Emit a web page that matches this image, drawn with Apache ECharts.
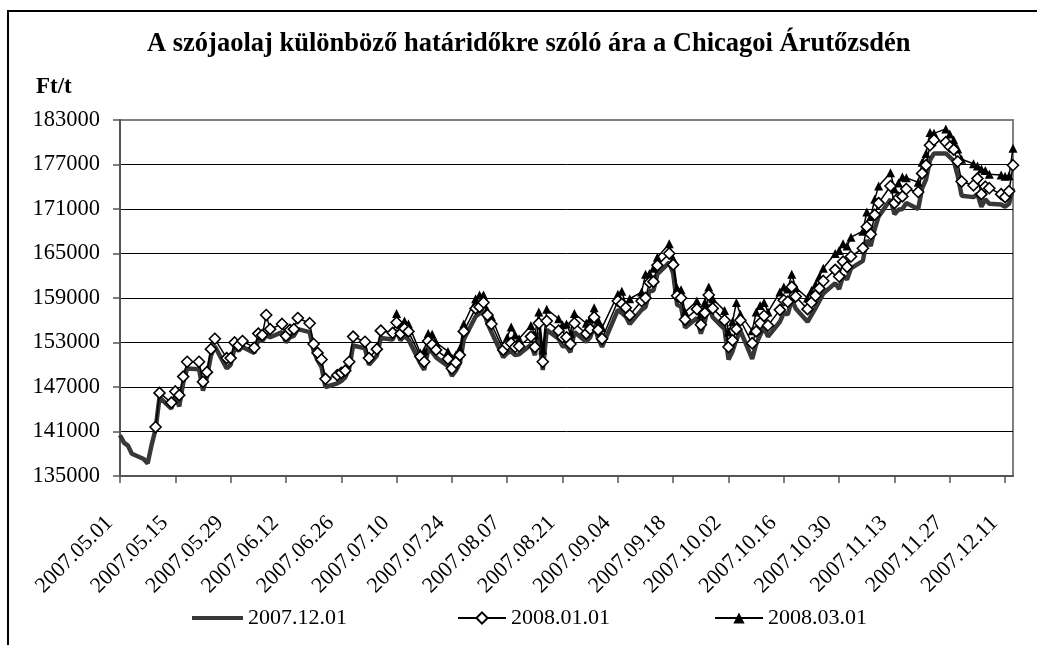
<!DOCTYPE html>
<html>
<head>
<meta charset="utf-8">
<script src="https://cdn.jsdelivr.net/npm/echarts@6/dist/echarts.min.js"></script>
<style>html,body{margin:0;padding:0;background:#fff}#c{width:1037px;height:645px}</style>
</head>
<body>
<div id="c"></div>
<script>
const titleText = 'A szójaolaj különböző határidőkre szóló ára a Chicagoi Árutőzsdén';
const unitText = 'Ft/t';
const seriesNames = ['2007.12.01', '2008.01.01', '2008.03.01'];
const xTickLabels = ['2007.05.01','2007.05.15','2007.05.29','2007.06.12','2007.06.26','2007.07.10','2007.07.24','2007.08.07','2007.08.21','2007.09.04','2007.09.18','2007.10.02','2007.10.16','2007.10.30','2007.11.13','2007.11.27','2007.12.11'];
const yTicks = [135000,141000,147000,153000,159000,165000,171000,177000,183000];

const dates = [
 '2007.05.01','2007.05.02','2007.05.03','2007.05.04','2007.05.07','2007.05.08','2007.05.09','2007.05.10','2007.05.11','2007.05.14','2007.05.15','2007.05.16','2007.05.17','2007.05.18','2007.05.21','2007.05.22','2007.05.23','2007.05.24','2007.05.25','2007.05.28','2007.05.29','2007.05.30','2007.05.31',
 '2007.06.01','2007.06.04','2007.06.05','2007.06.06','2007.06.07','2007.06.08','2007.06.11','2007.06.12','2007.06.13','2007.06.14','2007.06.15','2007.06.18','2007.06.19','2007.06.20','2007.06.21','2007.06.22','2007.06.25','2007.06.26','2007.06.27','2007.06.28','2007.06.29',
 '2007.07.02','2007.07.03','2007.07.05','2007.07.06','2007.07.09','2007.07.10','2007.07.11','2007.07.12','2007.07.13','2007.07.16','2007.07.17','2007.07.18','2007.07.19','2007.07.20','2007.07.23','2007.07.24','2007.07.25','2007.07.26','2007.07.27','2007.07.30','2007.07.31',
 '2007.08.01','2007.08.02','2007.08.03','2007.08.06','2007.08.07','2007.08.08','2007.08.09','2007.08.10','2007.08.13','2007.08.14','2007.08.15','2007.08.16','2007.08.17','2007.08.20','2007.08.21','2007.08.22','2007.08.23','2007.08.24','2007.08.27','2007.08.28','2007.08.29','2007.08.30','2007.08.31',
 '2007.09.04','2007.09.05','2007.09.06','2007.09.07','2007.09.10','2007.09.11','2007.09.12','2007.09.13','2007.09.14','2007.09.17','2007.09.18','2007.09.19','2007.09.20','2007.09.21','2007.09.24','2007.09.25','2007.09.26','2007.09.27','2007.09.28',
 '2007.10.01','2007.10.02','2007.10.03','2007.10.04','2007.10.05','2007.10.08','2007.10.09','2007.10.10','2007.10.11','2007.10.12','2007.10.15','2007.10.16','2007.10.17','2007.10.18','2007.10.19','2007.10.22','2007.10.23','2007.10.24','2007.10.25','2007.10.26','2007.10.29','2007.10.30','2007.10.31',
 '2007.11.01','2007.11.02','2007.11.05','2007.11.06','2007.11.07','2007.11.08','2007.11.09','2007.11.12','2007.11.13','2007.11.14','2007.11.15','2007.11.16','2007.11.19','2007.11.20','2007.11.21','2007.11.22','2007.11.23','2007.11.26','2007.11.27','2007.11.28','2007.11.29','2007.11.30',
 '2007.12.03','2007.12.04','2007.12.05','2007.12.06','2007.12.07','2007.12.10','2007.12.11','2007.12.12','2007.12.13'
];

const dec07 = [
 140500,139500,139100,138000,137300,136700,139200,141300,145600,144100,145700,144400,147600,149500,149400,146500,148300,151200,152500,149500,150000,152300,151900,
 152400,151600,153400,153200,154000,153700,154400,153000,153700,153900,154800,154400,151900,150600,149700,147000,147500,147800,148300,149500,152600,
 152200,150000,151200,153600,153400,154600,153300,153900,153400,150200,149300,152100,151700,151000,149800,148500,149200,150200,153400,156500,156900,
 157300,155600,154400,151000,151600,151800,151300,151400,152700,151300,154400,149300,154700,153500,152500,152500,151700,154400,153100,153700,155300,153600,152400,
 157400,157000,156500,155500,157400,157800,159900,160000,162200,163800,162300,158100,157800,155000,156300,154200,155800,158100,156400,
 154800,150700,151800,153400,154600,150800,152800,154000,155000,153800,155800,157000,156800,158800,157600,155800,156700,157600,158600,159600,161000,160200,162000,
 161500,163000,164000,166800,166000,168300,170000,172300,170300,170900,171000,171800,171000,173800,175000,177600,178500,178500,178000,177500,175500,172800,
 172600,173000,171300,172300,171700,171600,171300,171700,173800
];

const jan08 = [
 null,null,null,null,null,null,null,141600,146200,144900,146400,145900,148400,150400,150400,147700,149000,152100,153500,150900,150900,153000,152600,
 153200,152300,154200,154000,156700,154800,155500,153900,154700,154800,156300,155600,152800,151600,150700,148100,148600,148900,149200,150400,153800,
 153100,150900,152100,154600,154300,155700,154200,154900,154500,151100,150400,153200,152700,152000,150800,149500,150300,151300,154500,157600,157800,
 158400,156700,155500,152000,152700,152900,152400,152500,153800,152400,155600,150400,155900,154600,153700,153700,152800,155600,154200,154800,156400,154700,153500,
 158600,158200,157700,156700,158600,159000,161100,161200,163400,165000,163500,159300,159000,156100,157500,155400,157000,159400,157600,
 156000,152400,153300,154800,156000,152900,154500,155600,156600,155300,157400,158700,158500,160500,159200,157500,158400,159300,160300,161300,162800,161900,163900,
 163200,164600,165700,168600,167600,170200,171800,174100,171800,172500,172700,173700,173300,175800,176900,179600,180300,180000,179400,179000,177400,174700,
 174200,175100,173000,174000,173800,173000,172600,173400,176900
];

const mar08 = [
 null,null,null,null,null,null,null,null,null,null,null,null,null,null,null,null,null,null,null,null,null,null,null,
 null,null,null,null,null,null,null,null,null,null,null,null,null,null,null,null,null,null,null,null,null,
 null,null,null,null,null,156900,155400,155900,155500,151600,151900,154200,154100,153000,151800,150900,151300,152200,155500,158900,159400,
 159400,157300,156500,152500,153700,155100,154000,153500,155300,154000,157100,152000,157500,156200,155400,155500,154200,156900,155600,156200,157700,156000,155000,
 159500,159900,158100,158900,159800,162200,162300,163000,164500,166300,164300,160300,160100,157100,158600,156800,158400,160500,158900,
 157300,154400,155800,158400,156800,154600,157100,158000,158400,157100,159800,160500,160200,162200,160400,159000,160000,160800,161900,163000,165000,165400,166300,
 166000,167200,168000,170600,170000,172300,174100,175900,173700,174500,175300,175200,174600,177300,178500,181300,181200,181800,181100,180300,179100,177700,
 177100,176800,176400,176200,175700,175600,175400,175500,179200
];

const DAY = 86400000;
function dayOf(s) {
  const p = s.split('.').map(Number);
  return Math.round((Date.UTC(p[0], p[1]-1, p[2]) - Date.UTC(2007, 4, 1)) / DAY);
}
const xs = dates.map(dayOf);
const tickDays = xTickLabels.map(dayOf);
const labelByDay = {};
xTickLabels.forEach((l, i) => { labelByDay[tickDays[i]] = l; });
const pairs = arr => arr.map((v, i) => [xs[i], v]);
const xMax = xs[xs.length - 1];

const FONT = '"Times New Roman","Liberation Serif",serif';
const legendText = {fontFamily: FONT, fontSize: 22, color: '#000'};
const chart = echarts.init(document.getElementById('c'), null, {renderer: 'canvas'});
chart.setOption({
  animation: false,
  backgroundColor: '#fff',
  title: [
    {text: titleText, left: 142, top: 26, textStyle: {fontFamily: FONT, fontSize: 26.5, fontWeight: 'bold', color: '#000'}},
    {text: unitText, left: 31, top: 71, textStyle: {fontFamily: FONT, fontSize: 23, fontWeight: 'bold', color: '#000'}}
  ],
  graphic: [{type: 'rect', shape: {x: 8, y: 11, width: 1200, height: 1000}, style: {fill: 'none', stroke: '#000', lineWidth: 2}, silent: true}],
  legend: [
    {data: [seriesNames[0]], icon: 'rect', left: 187, top: 602, itemWidth: 51, itemHeight: 4, itemGap: 0, textStyle: legendText},
    {data: [seriesNames[1]], left: 452, top: 602, itemWidth: 48, itemHeight: 14, itemGap: 0, textStyle: legendText},
    {data: [seriesNames[2]], left: 709, top: 602, itemWidth: 48, itemHeight: 14, itemGap: 0, textStyle: legendText}
  ],
  grid: {left: 120, top: 120, right: 24, bottom: 169, show: true, borderColor: '#808080', borderWidth: 2, containLabel: false},
  xAxis: {
    type: 'value', min: 0, max: xMax, interval: 14,
    axisLine: {show: true, onZero: false, lineStyle: {color: '#555', width: 2}},
    axisTick: {show: true, inside: false, length: 7, lineStyle: {color: '#555', width: 1.5}},
    splitLine: {show: false},
    axisLabel: {rotate: 45, margin: 33, padding: [0, 15, 0, 0], fontFamily: FONT, fontSize: 22, color: '#000', showMaxLabel: false,
      formatter: v => labelByDay[Math.round(v)] || ''}
  },
  yAxis: {
    type: 'value', min: yTicks[0], max: yTicks[yTicks.length-1], interval: yTicks[1]-yTicks[0],
    axisLine: {show: true, lineStyle: {color: '#555', width: 2}},
    axisTick: {show: true, inside: false, length: 7, lineStyle: {color: '#555', width: 1.5}},
    splitLine: {show: true, showMaxLine: false, showMinLine: false, lineStyle: {color: '#000', width: 1}},
    axisLabel: {margin: 20, fontFamily: FONT, fontSize: 22.5, color: '#000', formatter: v => String(v)}
  },
  series: [
    {name: seriesNames[0], type: 'line', data: pairs(dec07), symbol: 'none', z: 2,
     lineStyle: {color: '#383838', width: 4.5}, itemStyle: {color: '#383838'}},
    {name: seriesNames[2], type: 'line', data: pairs(mar08), symbol: 'triangle', symbolSize: 9, showAllSymbol: true, z: 3,
     lineStyle: {color: '#000', width: 1.5}, itemStyle: {color: '#000', borderColor: '#000', borderWidth: 0}},
    {name: seriesNames[1], type: 'line', data: pairs(jan08), symbol: 'diamond', symbolSize: 11, showAllSymbol: true, z: 4,
     lineStyle: {color: '#000', width: 1.5}, itemStyle: {color: '#fff', borderColor: '#000', borderWidth: 1.6}}
  ]
});
</script>
</body>
</html>
